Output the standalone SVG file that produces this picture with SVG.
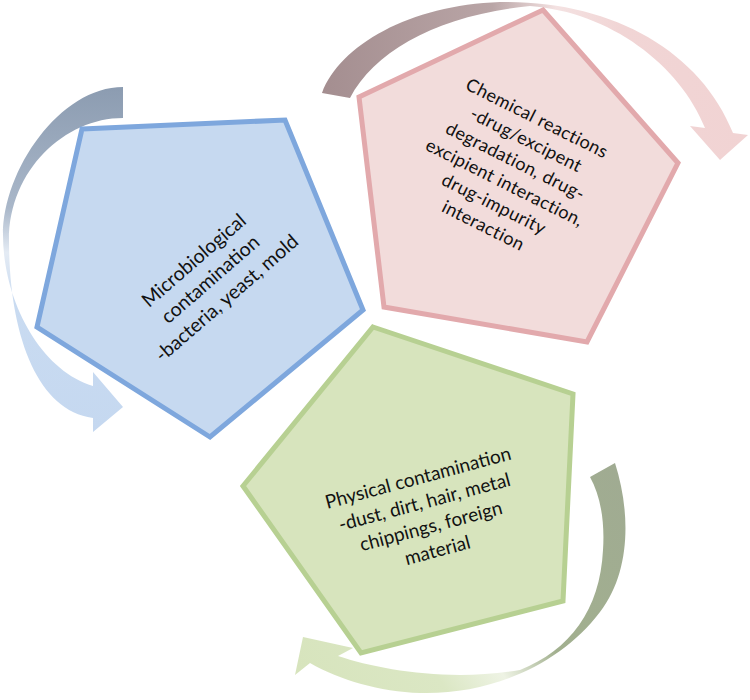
<svg xmlns="http://www.w3.org/2000/svg" width="750" height="700" viewBox="0 0 750 700">
<defs>
<style>
.lbl{font-family:Lato,"Liberation Sans",sans-serif;font-size:19px;fill:#111111;text-anchor:middle}
.pent{stroke-width:5;stroke-linejoin:miter}
</style>
<linearGradient id="gBlue" gradientUnits="userSpaceOnUse" x1="0" y1="87" x2="0" y2="432">
<stop offset="0" stop-color="#8c9cb1"/>
<stop offset="0.35" stop-color="#a9b7c9"/>
<stop offset="0.48" stop-color="#e4ebf4"/>
<stop offset="0.62" stop-color="#c9dbf1"/>
<stop offset="1" stop-color="#c5d8f0"/>
</linearGradient>
<linearGradient id="gPink" gradientUnits="userSpaceOnUse" x1="322" y1="0" x2="748" y2="0">
<stop offset="0" stop-color="#a48e90"/>
<stop offset="0.4" stop-color="#b9a5a6"/>
<stop offset="0.55" stop-color="#f4e2e2"/>
<stop offset="0.7" stop-color="#f1d5d5"/>
<stop offset="1" stop-color="#f1d3d3"/>
</linearGradient>
<linearGradient id="gGreen" gradientUnits="userSpaceOnUse" x1="620" y1="470" x2="300" y2="670">
<stop offset="0" stop-color="#a0ab92"/>
<stop offset="0.4" stop-color="#a2b08f"/>
<stop offset="0.55" stop-color="#eef3e4"/>
<stop offset="0.7" stop-color="#dbe7c4"/>
<stop offset="1" stop-color="#d7e4bd"/>
</linearGradient>
</defs>
<rect width="750" height="700" fill="#ffffff"/>
<g id="connectors">
<path id="arrow-blue" fill="url(#gBlue)" d="M123,87 C60,87 3,170 3,235 C3,300 40,370 93,386 L93,372 L123,407 L93,432 L93,418 C35,410 9,330 9,240 C9,170 65,118 123,118 Z"/>
<path id="arrow-pink" fill="url(#gPink)" d="M322,93 C340,45 410,5 500,2 C610,0 700,50 733,133 L748,135 L720,160 L690,126 L705,128 C680,65 610,12 530,6 C440,15 375,50 350,98 Z"/>
<path id="arrow-green" fill="url(#gGreen)" d="M615,463 C630,510 632,570 600,612 C560,665 490,695 420,693 C380,692 340,680 310,663 L295,675 L303,637 L353,648 L338,656 C380,670 450,682 520,670 C570,650 600,610 603,550 C605,520 600,495 590,477 Z"/>
</g>
<g id="node-microbiological">
<polygon class="pent" points="82,129 285,120 363,310 210,437 37,327" fill="#c6d9f0" stroke="#7ea7dd"/>
<g transform="translate(210,279) rotate(-41)" style="font-size:19.5px">
<text class="lbl" x="0" y="-18" style="font-size:19.5px">Microbiological</text>
<text class="lbl" x="0" y="7" style="font-size:19.5px">contamination</text>
<text class="lbl" x="0" y="32" style="font-size:19.5px">-bacteria, yeast, mold</text>
</g>
</g>
<g id="node-chemical">
<polygon class="pent" points="543,10 678,163 587,342 384,307 359,97" fill="#f2dcdb" stroke="#e2a9ac"/>
<g transform="translate(510,172) rotate(26.6)" style="letter-spacing:0.4px">
<text class="lbl" x="0" y="-54" style="font-size:18px">Chemical reactions</text>
<text class="lbl" x="0" y="-30" style="font-size:18px">-drug/excipent</text>
<text class="lbl" x="0" y="-6" style="font-size:18px">degradation, drug-</text>
<text class="lbl" x="0" y="18" style="font-size:18px">excipient interaction,</text>
<text class="lbl" x="0" y="42" style="font-size:18px">drug-impurity</text>
<text class="lbl" x="0" y="66" style="font-size:18px">interaction</text>
</g>
</g>
<g id="node-physical">
<polygon class="pent" points="373,327 573,394 563,601 361,653 243,486" fill="#d7e4bd" stroke="#b7d092"/>
<g transform="translate(428,515) rotate(-15)">
<text class="lbl" x="0" y="-32">Physical contamination</text>
<text class="lbl" x="0" y="-7">-dust, dirt, hair, metal</text>
<text class="lbl" x="0" y="18">chippings, foreign</text>
<text class="lbl" x="0" y="43">material</text>
</g>
</g>
</svg>
